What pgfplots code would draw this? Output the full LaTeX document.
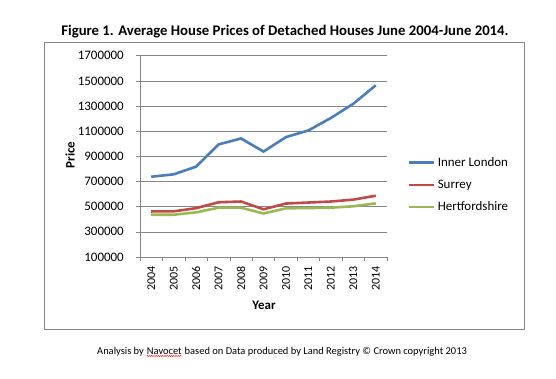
\documentclass[border=0pt]{standalone}
\usepackage{pgfplots}
\pgfplotsset{compat=1.18}
\usetikzlibrary{decorations.pathmorphing}
\usepackage{fontspec}
\setmainfont{Carlito}
\definecolor{ilblue}{HTML}{4A7EBB}
\definecolor{sured}{HTML}{BE4B48}
\definecolor{hegreen}{HTML}{98B954}
\definecolor{framegray}{HTML}{868686}
\begin{document}
\begin{tikzpicture}
\path[use as bounding box] (0,0) rectangle (556bp,379bp);
\draw[framegray, line width=0.8bp] (44bp,50bp) rectangle (524bp,337bp);
\node[font=\fontsize{14.8}{17}\selectfont\bfseries] at (285bp,347bp) {Figure 1. Average House Prices of Detached Houses June 2004-June 2014.};
\begin{scope}[every node/.style={font=\fontsize{10.5}{12}\selectfont, inner sep=0pt, anchor=base west}]
\node (fA) at (97bp,25bp) {Analysis by};
\node (fB) at ([xshift=2.6bp]fA.base east) {Navocet};
\node at ([xshift=2.6bp]fB.base east) {based on Data produced by Land Registry © Crown copyright 2013};
\end{scope}
\draw[red, line width=0.4bp, decorate, decoration={snake, amplitude=0.6bp, segment length=2.2bp}] ([yshift=-2bp]fB.base west) -- ([yshift=-2bp]fB.base east);
\begin{axis}[
  at={(140bp,122bp)}, anchor=south west,
  scale only axis, width=247bp, height=201.3bp,
  xmin=-0.5, xmax=10.5,
  ymin=100000, ymax=1700000,
  ytick={100000,300000,...,1700000},
  xtick={-0.5,0.5,...,10.5}, xticklabels={},
  extra x ticks={0,1,...,10},
  extra x tick labels={2004,2005,2006,2007,2008,2009,2010,2011,2012,2013,2014},
  extra x tick style={major tick length=0pt, grid=none},
  x tick label style={rotate=90, anchor=east, font=\fontsize{12}{14}\selectfont, inner sep=0pt, yshift=0pt, xshift=-9bp},
  y tick label style={font=\fontsize{13}{15}\selectfont, inner sep=0pt, xshift=-12bp, anchor=east},
  scaled y ticks=false,
  /pgf/number format/.cd, fixed, 1000 sep={}, assume math mode=true,
  /pgfplots/.cd,
  ymajorgrids, grid style={framegray, line width=0.6bp},
  axis x line*=bottom, axis y line*=left,
  axis line style={framegray, line width=0.8bp, -},
  tick align=outside, major tick length=4bp,
  tick style={framegray, line width=0.6bp},
  xlabel={Year}, ylabel={Price},
  every axis x label/.style={at={(rel axis cs:0.502,-0.238)}, anchor=center, font=\fontsize{13}{15}\selectfont\bfseries},
  every axis y label/.style={at={(rel axis cs:-0.283,0.507)}, rotate=90, anchor=center, font=\fontsize{13}{15}\selectfont\bfseries},
  legend style={draw=none, fill=none, at={(1.085,0.358)}, anchor=west, inner sep=0pt,
    font=\fontsize{13}{15}\selectfont, row sep=8bp},
  legend cell align=left,
  legend image code/.code={\draw[#1, line width=2.6bp] (0bp,0bp) -- (25bp,0bp);},
]
\addplot[ilblue, line width=2.6bp] coordinates {(0,738000) (1,757000) (2,818000) (3,995000) (4,1042000) (5,938000) (6,1053000) (7,1106000) (8,1205000) (9,1318000) (10,1465000)};
\addlegendentry{Inner London}
\addplot[sured, line width=2.6bp] coordinates {(0,462000) (1,463000) (2,488000) (3,535000) (4,541000) (5,479000) (6,525000) (7,533000) (8,541000) (9,556000) (10,587000)};
\addlegendentry{Surrey}
\addplot[hegreen, line width=2.6bp] coordinates {(0,436000) (1,436000) (2,455000) (3,492000) (4,492000) (5,446000) (6,487000) (7,489000) (8,492000) (9,503000) (10,526000)};
\addlegendentry{Hertfordshire}
\end{axis}
\end{tikzpicture}
\end{document}
